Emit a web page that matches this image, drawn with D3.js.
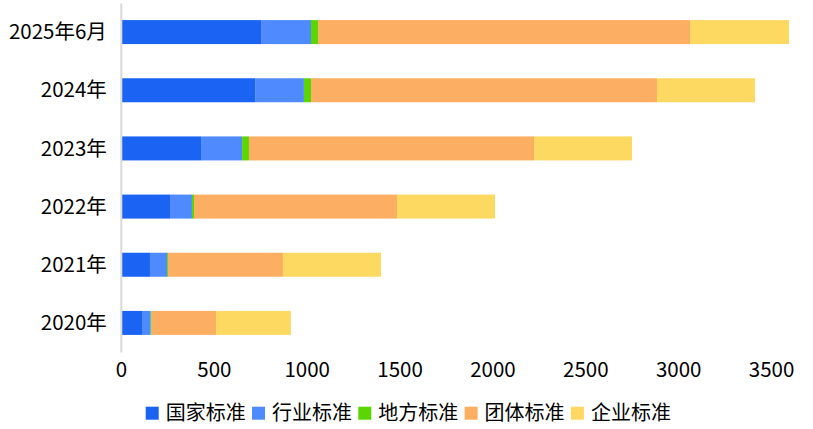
<!DOCTYPE html>
<html>
<head>
<meta charset="utf-8">
<script src="https://cdn.jsdelivr.net/npm/d3@7"></script>
<style>
  body { margin: 0; background: #fff; }
  text { font-family: "Microsoft YaHei", "Noto Sans CJK SC", sans-serif; fill: #000; }
</style>
</head>
<body>
<div id="chart"></div>
<script>
const width = 813;
const height = 429;

// data
const years = ["2025年6月", "2024年", "2023年", "2022年", "2021年", "2020年"];
const seriesNames = ["国家标准", "行业标准", "地方标准", "团体标准", "企业标准"];
const colors = ["#1a63f3", "#4f8bff", "#5ad600", "#fcae62", "#fdd961"];
const guojia = [754, 722, 431, 264, 156, 113];
const hangye = [269, 263, 221, 118, 92, 47];
const difang = [38, 38, 37, 11, 5, 5];
const tuanti = [2003, 1863, 1535, 1093, 619, 347];
const qiye = [533, 528, 528, 528, 528, 403];
const xTicks = [0, 500, 1000, 1500, 2000, 2500, 3000, 3500];

const table = years.map((y, i) => ({
  year: y,
  国家标准: guojia[i],
  行业标准: hangye[i],
  地方标准: difang[i],
  团体标准: tuanti[i],
  企业标准: qiye[i]
}));

const stacked = d3.stack().keys(seriesNames)(table);

const svg = d3
  .select("#chart")
  .append("svg")
  .attr("width", width)
  .attr("height", height);

const xScale = d3.scaleLinear().domain([0, 3500]).range([121, 771]);

const yScale = d3.scaleBand().domain(years).range([3, 352]).padding(0);

const colorScale = d3.scaleOrdinal().domain(seriesNames).range(colors);

const barH = 24;

// bars
svg
  .selectAll("g.series")
  .data(stacked)
  .enter()
  .append("g")
  .attr("class", "series")
  .attr("fill", (d) => colorScale(d.key))
  .selectAll("rect")
  .data((d) => d)
  .enter()
  .append("rect")
  .attr("x", (d) => xScale(d[0]))
  .attr("y", (d) => yScale(d.data.year) + yScale.bandwidth() / 2 - barH / 2)
  .attr("width", (d) => xScale(d[1]) - xScale(d[0]))
  .attr("height", barH);

// y axis
const yAxis = svg
  .append("g")
  .attr("transform", "translate(120.8,0)")
  .call(d3.axisLeft(yScale).tickSize(0).tickSizeOuter(0).tickPadding(14));
yAxis.select(".domain").attr("stroke", "#d9d9d9").attr("stroke-width", 2);
yAxis
  .selectAll("text")
  .attr("font-size", 20.5)
  .attr("fill", "#000")
  .attr("dy", "0.35em");

// x axis
const xAxis = svg
  .append("g")
  .attr("transform", "translate(0,362)")
  .call(
    d3
      .axisBottom(xScale)
      .tickValues(xTicks)
      .tickFormat(d3.format("d"))
      .tickSize(0)
      .tickPadding(0)
  );
xAxis.select(".domain").remove();
xAxis
  .selectAll("text")
  .attr("font-size", 20.5)
  .attr("fill", "#000")
  .attr("dy", "0.71em");

// legend
const legend = svg.append("g");
const items = legend
  .selectAll("g")
  .data(seriesNames)
  .enter()
  .append("g")
  .attr("transform", (d, i) => `translate(${145.7 + i * 106.3},406.7)`);

items
  .append("rect")
  .attr("width", 13)
  .attr("height", 13)
  .attr("fill", (d) => colorScale(d));

items
  .append("text")
  .attr("x", 20)
  .attr("y", 6.5)
  .attr("dy", "0.35em")
  .attr("font-size", 20)
  .text((d) => d);
</script>
</body>
</html>
